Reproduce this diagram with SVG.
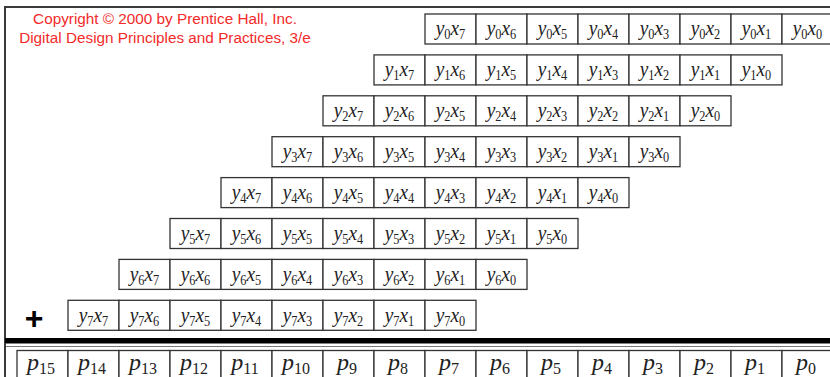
<svg xmlns="http://www.w3.org/2000/svg" width="830" height="377" viewBox="0 0 830 377">
<style>
.c{fill:#fff;stroke:#333;stroke-width:1.3}
.t{font-family:"Liberation Serif","Times New Roman",serif;font-style:italic;font-size:22px;fill:#222;text-anchor:middle}
.s{font-style:normal;font-size:14px}
.p{font-size:24px}
.p .s{font-size:16px}
.fr{stroke:#3a3a3a;stroke-width:2;fill:none}
.cp{font-family:"Liberation Sans",Arial,sans-serif;font-size:15.3px;fill:#f22a2a;text-anchor:middle}
</style>
<rect width="830" height="377" fill="#fff"/>
<g id="frame">
<path class="fr" d="M5,344 V7 H830"/>
<rect x="5" y="338" width="825" height="5.5" fill="#000"/>
<path d="M5,346.5 H830" stroke="#777" stroke-width="1" fill="none"/>
<path class="fr" d="M5,343 V377"/>
</g>
<g id="copyright">
<text class="cp" x="165" y="23.5">Copyright © 2000 by Prentice Hall, Inc.</text>
<text class="cp" x="165" y="42.5">Digital Design Principles and Practices, 3/e</text>
</g>
<g id="plus"><text x="34" y="329" font-family="Liberation Sans,Arial,sans-serif" font-weight="bold" font-size="32" text-anchor="middle" fill="#000">+</text></g>

<g id="row0" transform="translate(0,14)">
<g id="y0x7" transform="translate(425,0)"><rect class="c" width="51" height="30"/><text class="t" transform="translate(25.5 21.3) scale(.88 1)">y<tspan class="s" dy="4">0</tspan><tspan dy="-4">x</tspan><tspan class="s" dy="4">7</tspan></text></g>
<g id="y0x6" transform="translate(476,0)"><rect class="c" width="51" height="30"/><text class="t" transform="translate(25.5 21.3) scale(.88 1)">y<tspan class="s" dy="4">0</tspan><tspan dy="-4">x</tspan><tspan class="s" dy="4">6</tspan></text></g>
<g id="y0x5" transform="translate(527,0)"><rect class="c" width="51" height="30"/><text class="t" transform="translate(25.5 21.3) scale(.88 1)">y<tspan class="s" dy="4">0</tspan><tspan dy="-4">x</tspan><tspan class="s" dy="4">5</tspan></text></g>
<g id="y0x4" transform="translate(578,0)"><rect class="c" width="51" height="30"/><text class="t" transform="translate(25.5 21.3) scale(.88 1)">y<tspan class="s" dy="4">0</tspan><tspan dy="-4">x</tspan><tspan class="s" dy="4">4</tspan></text></g>
<g id="y0x3" transform="translate(629,0)"><rect class="c" width="51" height="30"/><text class="t" transform="translate(25.5 21.3) scale(.88 1)">y<tspan class="s" dy="4">0</tspan><tspan dy="-4">x</tspan><tspan class="s" dy="4">3</tspan></text></g>
<g id="y0x2" transform="translate(680,0)"><rect class="c" width="51" height="30"/><text class="t" transform="translate(25.5 21.3) scale(.88 1)">y<tspan class="s" dy="4">0</tspan><tspan dy="-4">x</tspan><tspan class="s" dy="4">2</tspan></text></g>
<g id="y0x1" transform="translate(731,0)"><rect class="c" width="51" height="30"/><text class="t" transform="translate(25.5 21.3) scale(.88 1)">y<tspan class="s" dy="4">0</tspan><tspan dy="-4">x</tspan><tspan class="s" dy="4">1</tspan></text></g>
<g id="y0x0" transform="translate(782,0)"><rect class="c" width="51" height="30"/><text class="t" transform="translate(25.5 21.3) scale(.88 1)">y<tspan class="s" dy="4">0</tspan><tspan dy="-4">x</tspan><tspan class="s" dy="4">0</tspan></text></g>
</g>

<g id="row1" transform="translate(0,54.9)">
<g id="y1x7" transform="translate(374,0)"><rect class="c" width="51" height="30"/><text class="t" transform="translate(25.5 21.3) scale(.88 1)">y<tspan class="s" dy="4">1</tspan><tspan dy="-4">x</tspan><tspan class="s" dy="4">7</tspan></text></g>
<g id="y1x6" transform="translate(425,0)"><rect class="c" width="51" height="30"/><text class="t" transform="translate(25.5 21.3) scale(.88 1)">y<tspan class="s" dy="4">1</tspan><tspan dy="-4">x</tspan><tspan class="s" dy="4">6</tspan></text></g>
<g id="y1x5" transform="translate(476,0)"><rect class="c" width="51" height="30"/><text class="t" transform="translate(25.5 21.3) scale(.88 1)">y<tspan class="s" dy="4">1</tspan><tspan dy="-4">x</tspan><tspan class="s" dy="4">5</tspan></text></g>
<g id="y1x4" transform="translate(527,0)"><rect class="c" width="51" height="30"/><text class="t" transform="translate(25.5 21.3) scale(.88 1)">y<tspan class="s" dy="4">1</tspan><tspan dy="-4">x</tspan><tspan class="s" dy="4">4</tspan></text></g>
<g id="y1x3" transform="translate(578,0)"><rect class="c" width="51" height="30"/><text class="t" transform="translate(25.5 21.3) scale(.88 1)">y<tspan class="s" dy="4">1</tspan><tspan dy="-4">x</tspan><tspan class="s" dy="4">3</tspan></text></g>
<g id="y1x2" transform="translate(629,0)"><rect class="c" width="51" height="30"/><text class="t" transform="translate(25.5 21.3) scale(.88 1)">y<tspan class="s" dy="4">1</tspan><tspan dy="-4">x</tspan><tspan class="s" dy="4">2</tspan></text></g>
<g id="y1x1" transform="translate(680,0)"><rect class="c" width="51" height="30"/><text class="t" transform="translate(25.5 21.3) scale(.88 1)">y<tspan class="s" dy="4">1</tspan><tspan dy="-4">x</tspan><tspan class="s" dy="4">1</tspan></text></g>
<g id="y1x0" transform="translate(731,0)"><rect class="c" width="51" height="30"/><text class="t" transform="translate(25.5 21.3) scale(.88 1)">y<tspan class="s" dy="4">1</tspan><tspan dy="-4">x</tspan><tspan class="s" dy="4">0</tspan></text></g>
</g>

<g id="row2" transform="translate(0,95.8)">
<g id="y2x7" transform="translate(323,0)"><rect class="c" width="51" height="30"/><text class="t" transform="translate(25.5 21.3) scale(.88 1)">y<tspan class="s" dy="4">2</tspan><tspan dy="-4">x</tspan><tspan class="s" dy="4">7</tspan></text></g>
<g id="y2x6" transform="translate(374,0)"><rect class="c" width="51" height="30"/><text class="t" transform="translate(25.5 21.3) scale(.88 1)">y<tspan class="s" dy="4">2</tspan><tspan dy="-4">x</tspan><tspan class="s" dy="4">6</tspan></text></g>
<g id="y2x5" transform="translate(425,0)"><rect class="c" width="51" height="30"/><text class="t" transform="translate(25.5 21.3) scale(.88 1)">y<tspan class="s" dy="4">2</tspan><tspan dy="-4">x</tspan><tspan class="s" dy="4">5</tspan></text></g>
<g id="y2x4" transform="translate(476,0)"><rect class="c" width="51" height="30"/><text class="t" transform="translate(25.5 21.3) scale(.88 1)">y<tspan class="s" dy="4">2</tspan><tspan dy="-4">x</tspan><tspan class="s" dy="4">4</tspan></text></g>
<g id="y2x3" transform="translate(527,0)"><rect class="c" width="51" height="30"/><text class="t" transform="translate(25.5 21.3) scale(.88 1)">y<tspan class="s" dy="4">2</tspan><tspan dy="-4">x</tspan><tspan class="s" dy="4">3</tspan></text></g>
<g id="y2x2" transform="translate(578,0)"><rect class="c" width="51" height="30"/><text class="t" transform="translate(25.5 21.3) scale(.88 1)">y<tspan class="s" dy="4">2</tspan><tspan dy="-4">x</tspan><tspan class="s" dy="4">2</tspan></text></g>
<g id="y2x1" transform="translate(629,0)"><rect class="c" width="51" height="30"/><text class="t" transform="translate(25.5 21.3) scale(.88 1)">y<tspan class="s" dy="4">2</tspan><tspan dy="-4">x</tspan><tspan class="s" dy="4">1</tspan></text></g>
<g id="y2x0" transform="translate(680,0)"><rect class="c" width="51" height="30"/><text class="t" transform="translate(25.5 21.3) scale(.88 1)">y<tspan class="s" dy="4">2</tspan><tspan dy="-4">x</tspan><tspan class="s" dy="4">0</tspan></text></g>
</g>

<g id="row3" transform="translate(0,136.7)">
<g id="y3x7" transform="translate(272,0)"><rect class="c" width="51" height="30"/><text class="t" transform="translate(25.5 21.3) scale(.88 1)">y<tspan class="s" dy="4">3</tspan><tspan dy="-4">x</tspan><tspan class="s" dy="4">7</tspan></text></g>
<g id="y3x6" transform="translate(323,0)"><rect class="c" width="51" height="30"/><text class="t" transform="translate(25.5 21.3) scale(.88 1)">y<tspan class="s" dy="4">3</tspan><tspan dy="-4">x</tspan><tspan class="s" dy="4">6</tspan></text></g>
<g id="y3x5" transform="translate(374,0)"><rect class="c" width="51" height="30"/><text class="t" transform="translate(25.5 21.3) scale(.88 1)">y<tspan class="s" dy="4">3</tspan><tspan dy="-4">x</tspan><tspan class="s" dy="4">5</tspan></text></g>
<g id="y3x4" transform="translate(425,0)"><rect class="c" width="51" height="30"/><text class="t" transform="translate(25.5 21.3) scale(.88 1)">y<tspan class="s" dy="4">3</tspan><tspan dy="-4">x</tspan><tspan class="s" dy="4">4</tspan></text></g>
<g id="y3x3" transform="translate(476,0)"><rect class="c" width="51" height="30"/><text class="t" transform="translate(25.5 21.3) scale(.88 1)">y<tspan class="s" dy="4">3</tspan><tspan dy="-4">x</tspan><tspan class="s" dy="4">3</tspan></text></g>
<g id="y3x2" transform="translate(527,0)"><rect class="c" width="51" height="30"/><text class="t" transform="translate(25.5 21.3) scale(.88 1)">y<tspan class="s" dy="4">3</tspan><tspan dy="-4">x</tspan><tspan class="s" dy="4">2</tspan></text></g>
<g id="y3x1" transform="translate(578,0)"><rect class="c" width="51" height="30"/><text class="t" transform="translate(25.5 21.3) scale(.88 1)">y<tspan class="s" dy="4">3</tspan><tspan dy="-4">x</tspan><tspan class="s" dy="4">1</tspan></text></g>
<g id="y3x0" transform="translate(629,0)"><rect class="c" width="51" height="30"/><text class="t" transform="translate(25.5 21.3) scale(.88 1)">y<tspan class="s" dy="4">3</tspan><tspan dy="-4">x</tspan><tspan class="s" dy="4">0</tspan></text></g>
</g>

<g id="row4" transform="translate(0,177.6)">
<g id="y4x7" transform="translate(221,0)"><rect class="c" width="51" height="30"/><text class="t" transform="translate(25.5 21.3) scale(.88 1)">y<tspan class="s" dy="4">4</tspan><tspan dy="-4">x</tspan><tspan class="s" dy="4">7</tspan></text></g>
<g id="y4x6" transform="translate(272,0)"><rect class="c" width="51" height="30"/><text class="t" transform="translate(25.5 21.3) scale(.88 1)">y<tspan class="s" dy="4">4</tspan><tspan dy="-4">x</tspan><tspan class="s" dy="4">6</tspan></text></g>
<g id="y4x5" transform="translate(323,0)"><rect class="c" width="51" height="30"/><text class="t" transform="translate(25.5 21.3) scale(.88 1)">y<tspan class="s" dy="4">4</tspan><tspan dy="-4">x</tspan><tspan class="s" dy="4">5</tspan></text></g>
<g id="y4x4" transform="translate(374,0)"><rect class="c" width="51" height="30"/><text class="t" transform="translate(25.5 21.3) scale(.88 1)">y<tspan class="s" dy="4">4</tspan><tspan dy="-4">x</tspan><tspan class="s" dy="4">4</tspan></text></g>
<g id="y4x3" transform="translate(425,0)"><rect class="c" width="51" height="30"/><text class="t" transform="translate(25.5 21.3) scale(.88 1)">y<tspan class="s" dy="4">4</tspan><tspan dy="-4">x</tspan><tspan class="s" dy="4">3</tspan></text></g>
<g id="y4x2" transform="translate(476,0)"><rect class="c" width="51" height="30"/><text class="t" transform="translate(25.5 21.3) scale(.88 1)">y<tspan class="s" dy="4">4</tspan><tspan dy="-4">x</tspan><tspan class="s" dy="4">2</tspan></text></g>
<g id="y4x1" transform="translate(527,0)"><rect class="c" width="51" height="30"/><text class="t" transform="translate(25.5 21.3) scale(.88 1)">y<tspan class="s" dy="4">4</tspan><tspan dy="-4">x</tspan><tspan class="s" dy="4">1</tspan></text></g>
<g id="y4x0" transform="translate(578,0)"><rect class="c" width="51" height="30"/><text class="t" transform="translate(25.5 21.3) scale(.88 1)">y<tspan class="s" dy="4">4</tspan><tspan dy="-4">x</tspan><tspan class="s" dy="4">0</tspan></text></g>
</g>

<g id="row5" transform="translate(0,218.5)">
<g id="y5x7" transform="translate(170,0)"><rect class="c" width="51" height="30"/><text class="t" transform="translate(25.5 21.3) scale(.88 1)">y<tspan class="s" dy="4">5</tspan><tspan dy="-4">x</tspan><tspan class="s" dy="4">7</tspan></text></g>
<g id="y5x6" transform="translate(221,0)"><rect class="c" width="51" height="30"/><text class="t" transform="translate(25.5 21.3) scale(.88 1)">y<tspan class="s" dy="4">5</tspan><tspan dy="-4">x</tspan><tspan class="s" dy="4">6</tspan></text></g>
<g id="y5x5" transform="translate(272,0)"><rect class="c" width="51" height="30"/><text class="t" transform="translate(25.5 21.3) scale(.88 1)">y<tspan class="s" dy="4">5</tspan><tspan dy="-4">x</tspan><tspan class="s" dy="4">5</tspan></text></g>
<g id="y5x4" transform="translate(323,0)"><rect class="c" width="51" height="30"/><text class="t" transform="translate(25.5 21.3) scale(.88 1)">y<tspan class="s" dy="4">5</tspan><tspan dy="-4">x</tspan><tspan class="s" dy="4">4</tspan></text></g>
<g id="y5x3" transform="translate(374,0)"><rect class="c" width="51" height="30"/><text class="t" transform="translate(25.5 21.3) scale(.88 1)">y<tspan class="s" dy="4">5</tspan><tspan dy="-4">x</tspan><tspan class="s" dy="4">3</tspan></text></g>
<g id="y5x2" transform="translate(425,0)"><rect class="c" width="51" height="30"/><text class="t" transform="translate(25.5 21.3) scale(.88 1)">y<tspan class="s" dy="4">5</tspan><tspan dy="-4">x</tspan><tspan class="s" dy="4">2</tspan></text></g>
<g id="y5x1" transform="translate(476,0)"><rect class="c" width="51" height="30"/><text class="t" transform="translate(25.5 21.3) scale(.88 1)">y<tspan class="s" dy="4">5</tspan><tspan dy="-4">x</tspan><tspan class="s" dy="4">1</tspan></text></g>
<g id="y5x0" transform="translate(527,0)"><rect class="c" width="51" height="30"/><text class="t" transform="translate(25.5 21.3) scale(.88 1)">y<tspan class="s" dy="4">5</tspan><tspan dy="-4">x</tspan><tspan class="s" dy="4">0</tspan></text></g>
</g>

<g id="row6" transform="translate(0,259.4)">
<g id="y6x7" transform="translate(119,0)"><rect class="c" width="51" height="30"/><text class="t" transform="translate(25.5 21.3) scale(.88 1)">y<tspan class="s" dy="4">6</tspan><tspan dy="-4">x</tspan><tspan class="s" dy="4">7</tspan></text></g>
<g id="y6x6" transform="translate(170,0)"><rect class="c" width="51" height="30"/><text class="t" transform="translate(25.5 21.3) scale(.88 1)">y<tspan class="s" dy="4">6</tspan><tspan dy="-4">x</tspan><tspan class="s" dy="4">6</tspan></text></g>
<g id="y6x5" transform="translate(221,0)"><rect class="c" width="51" height="30"/><text class="t" transform="translate(25.5 21.3) scale(.88 1)">y<tspan class="s" dy="4">6</tspan><tspan dy="-4">x</tspan><tspan class="s" dy="4">5</tspan></text></g>
<g id="y6x4" transform="translate(272,0)"><rect class="c" width="51" height="30"/><text class="t" transform="translate(25.5 21.3) scale(.88 1)">y<tspan class="s" dy="4">6</tspan><tspan dy="-4">x</tspan><tspan class="s" dy="4">4</tspan></text></g>
<g id="y6x3" transform="translate(323,0)"><rect class="c" width="51" height="30"/><text class="t" transform="translate(25.5 21.3) scale(.88 1)">y<tspan class="s" dy="4">6</tspan><tspan dy="-4">x</tspan><tspan class="s" dy="4">3</tspan></text></g>
<g id="y6x2" transform="translate(374,0)"><rect class="c" width="51" height="30"/><text class="t" transform="translate(25.5 21.3) scale(.88 1)">y<tspan class="s" dy="4">6</tspan><tspan dy="-4">x</tspan><tspan class="s" dy="4">2</tspan></text></g>
<g id="y6x1" transform="translate(425,0)"><rect class="c" width="51" height="30"/><text class="t" transform="translate(25.5 21.3) scale(.88 1)">y<tspan class="s" dy="4">6</tspan><tspan dy="-4">x</tspan><tspan class="s" dy="4">1</tspan></text></g>
<g id="y6x0" transform="translate(476,0)"><rect class="c" width="51" height="30"/><text class="t" transform="translate(25.5 21.3) scale(.88 1)">y<tspan class="s" dy="4">6</tspan><tspan dy="-4">x</tspan><tspan class="s" dy="4">0</tspan></text></g>
</g>

<g id="row7" transform="translate(0,300.3)">
<g id="y7x7" transform="translate(68,0)"><rect class="c" width="51" height="30"/><text class="t" transform="translate(25.5 21.3) scale(.88 1)">y<tspan class="s" dy="4">7</tspan><tspan dy="-4">x</tspan><tspan class="s" dy="4">7</tspan></text></g>
<g id="y7x6" transform="translate(119,0)"><rect class="c" width="51" height="30"/><text class="t" transform="translate(25.5 21.3) scale(.88 1)">y<tspan class="s" dy="4">7</tspan><tspan dy="-4">x</tspan><tspan class="s" dy="4">6</tspan></text></g>
<g id="y7x5" transform="translate(170,0)"><rect class="c" width="51" height="30"/><text class="t" transform="translate(25.5 21.3) scale(.88 1)">y<tspan class="s" dy="4">7</tspan><tspan dy="-4">x</tspan><tspan class="s" dy="4">5</tspan></text></g>
<g id="y7x4" transform="translate(221,0)"><rect class="c" width="51" height="30"/><text class="t" transform="translate(25.5 21.3) scale(.88 1)">y<tspan class="s" dy="4">7</tspan><tspan dy="-4">x</tspan><tspan class="s" dy="4">4</tspan></text></g>
<g id="y7x3" transform="translate(272,0)"><rect class="c" width="51" height="30"/><text class="t" transform="translate(25.5 21.3) scale(.88 1)">y<tspan class="s" dy="4">7</tspan><tspan dy="-4">x</tspan><tspan class="s" dy="4">3</tspan></text></g>
<g id="y7x2" transform="translate(323,0)"><rect class="c" width="51" height="30"/><text class="t" transform="translate(25.5 21.3) scale(.88 1)">y<tspan class="s" dy="4">7</tspan><tspan dy="-4">x</tspan><tspan class="s" dy="4">2</tspan></text></g>
<g id="y7x1" transform="translate(374,0)"><rect class="c" width="51" height="30"/><text class="t" transform="translate(25.5 21.3) scale(.88 1)">y<tspan class="s" dy="4">7</tspan><tspan dy="-4">x</tspan><tspan class="s" dy="4">1</tspan></text></g>
<g id="y7x0" transform="translate(425,0)"><rect class="c" width="51" height="30"/><text class="t" transform="translate(25.5 21.3) scale(.88 1)">y<tspan class="s" dy="4">7</tspan><tspan dy="-4">x</tspan><tspan class="s" dy="4">0</tspan></text></g>
</g>

<g id="product" transform="translate(0,350.5)">
<g id="p15" transform="translate(17,0)"><rect class="c" width="51" height="40"/><text class="t p" x="24" y="19">p<tspan class="s" dy="4">15</tspan></text></g>
<g id="p14" transform="translate(68,0)"><rect class="c" width="51" height="40"/><text class="t p" x="24" y="19">p<tspan class="s" dy="4">14</tspan></text></g>
<g id="p13" transform="translate(119,0)"><rect class="c" width="51" height="40"/><text class="t p" x="24" y="19">p<tspan class="s" dy="4">13</tspan></text></g>
<g id="p12" transform="translate(170,0)"><rect class="c" width="51" height="40"/><text class="t p" x="24" y="19">p<tspan class="s" dy="4">12</tspan></text></g>
<g id="p11" transform="translate(221,0)"><rect class="c" width="51" height="40"/><text class="t p" x="24" y="19">p<tspan class="s" dy="4">11</tspan></text></g>
<g id="p10" transform="translate(272,0)"><rect class="c" width="51" height="40"/><text class="t p" x="24" y="19">p<tspan class="s" dy="4">10</tspan></text></g>
<g id="p9" transform="translate(323,0)"><rect class="c" width="51" height="40"/><text class="t p" x="24" y="19">p<tspan class="s" dy="4">9</tspan></text></g>
<g id="p8" transform="translate(374,0)"><rect class="c" width="51" height="40"/><text class="t p" x="24" y="19">p<tspan class="s" dy="4">8</tspan></text></g>
<g id="p7" transform="translate(425,0)"><rect class="c" width="51" height="40"/><text class="t p" x="24" y="19">p<tspan class="s" dy="4">7</tspan></text></g>
<g id="p6" transform="translate(476,0)"><rect class="c" width="51" height="40"/><text class="t p" x="24" y="19">p<tspan class="s" dy="4">6</tspan></text></g>
<g id="p5" transform="translate(527,0)"><rect class="c" width="51" height="40"/><text class="t p" x="24" y="19">p<tspan class="s" dy="4">5</tspan></text></g>
<g id="p4" transform="translate(578,0)"><rect class="c" width="51" height="40"/><text class="t p" x="24" y="19">p<tspan class="s" dy="4">4</tspan></text></g>
<g id="p3" transform="translate(629,0)"><rect class="c" width="51" height="40"/><text class="t p" x="24" y="19">p<tspan class="s" dy="4">3</tspan></text></g>
<g id="p2" transform="translate(680,0)"><rect class="c" width="51" height="40"/><text class="t p" x="24" y="19">p<tspan class="s" dy="4">2</tspan></text></g>
<g id="p1" transform="translate(731,0)"><rect class="c" width="51" height="40"/><text class="t p" x="24" y="19">p<tspan class="s" dy="4">1</tspan></text></g>
<g id="p0" transform="translate(782,0)"><rect class="c" width="51" height="40"/><text class="t p" x="24" y="19">p<tspan class="s" dy="4">0</tspan></text></g>
</g>
<g id="connectors"/>
</svg>
